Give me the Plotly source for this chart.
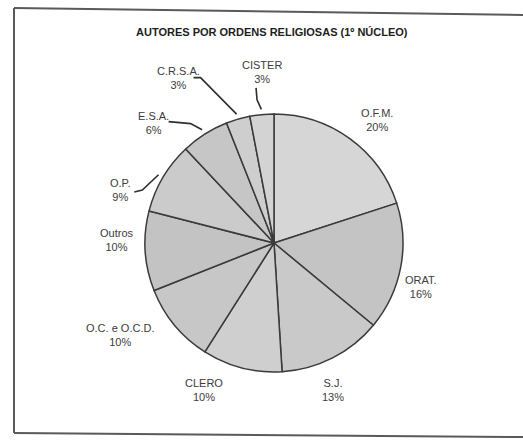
import math
import plotly.graph_objects as go

# ---- data ----
categories = ["O.F.M.", "ORAT.", "S.J.", "CLERO", "O.C. e O.C.D.", "Outros",
              "O.P.", "E.S.A.", "C.R.S.A.", "CISTER"]
percent = [20, 16, 13, 10, 10, 10, 9, 6, 3, 3]
title_text = "AUTORES POR ORDENS RELIGIOSAS (1º NÚCLEO)"

# ---- style ----
W, H = 523, 440
CX, CY, R = 274, 243, 129
slice_colors = ["#d6d6d6", "#c4c4c4", "#c9c9c9", "#cfcfcf", "#c7c7c7",
                "#c3c3c3", "#cbcbcb", "#c6c6c6", "#cecece", "#d3d3d3"]
# label placement: (angle shift in degrees, radius factor)
label_shift = [4, 6, 5, 11, 8.6, 4.6, -11.6, -12.6, -13.8, 1.4]
label_rfac = [1.24, 1.19, 1.23, 1.26, 1.39, 1.22, 1.26, 1.32, 1.48, 1.33]
# leader lines: label index -> (anchor offset from label centre, stub offset)
leaders = {
    9: ((-6, 16), (1, 12)),
    8: ((15, 0), (7, 0)),
    7: ((15, -1), (22, 2)),
    6: ((14, 2), (8, -2)),
}

fig = go.Figure(go.Pie(
    labels=categories,
    values=percent,
    sort=False,
    direction="clockwise",
    rotation=0,
    textinfo="none",
    hoverinfo="label+percent",
    marker=dict(colors=slice_colors, line=dict(color="#3a3a3a", width=1.5)),
    domain=dict(x=[(CX - R) / W, (CX + R) / W],
                y=[(H - CY - R) / H, (H - CY + R) / H]),
    showlegend=False,
))

def px(xp):
    return xp / W

def py(yp):
    return 1 - yp / H

total = sum(percent)
cum = 0
annotations = []
shapes = []
for i, (cat, v) in enumerate(zip(categories, percent)):
    mid = (cum + v / 2) / total * 360
    cum += v
    a = math.radians(mid + label_shift[i])
    lx = CX + R * label_rfac[i] * math.sin(a)
    ly = CY - R * label_rfac[i] * math.cos(a)
    annotations.append(dict(
        x=px(lx), y=py(ly), xref="paper", yref="paper",
        text=f"{cat}<br>{round(v / total * 100)}%", showarrow=False,
        font=dict(family="Liberation Sans, Arial, sans-serif", size=11, color="#3c3c3c"),
        xanchor="center", yanchor="middle", align="center",
    ))
    if i in leaders:
        (ox, oy), (sx, sy) = leaders[i]
        m = math.radians(mid)
        ex = CX + R * 1.04 * math.sin(m)
        ey = CY - R * 1.04 * math.cos(m)
        x0, y0 = lx + ox, ly + oy
        x1, y1 = x0 + sx, y0 + sy
        shapes.append(dict(
            type="path", xref="paper", yref="paper",
            path=f"M {px(x0)} {py(y0)} L {px(x1)} {py(y1)} L {px(ex)} {py(ey)}",
            line=dict(color="#2e2e2e", width=1.6),
        ))

annotations.append(dict(
    x=px(272), y=py(32), xref="paper", yref="paper", text=f"<b>{title_text}</b>",
    showarrow=False, font=dict(family="Liberation Sans, Arial, sans-serif", size=11, color="#1e1e1e"),
    xanchor="center", yanchor="middle",
))

# frame around the chart
frame = [((14, 8), (523, 15)), ((14, 8), (14, 433)), ((14, 433), (523, 437))]
for (a0, b0), (a1, b1) in frame:
    shapes.append(dict(type="line", xref="paper", yref="paper",
                       x0=px(a0), y0=py(b0), x1=px(a1), y1=py(b1),
                       line=dict(color="#5a5a5a", width=2)))

fig.update_layout(
    width=W, height=H,
    margin=dict(l=0, r=0, t=0, b=0),
    paper_bgcolor="white", plot_bgcolor="white",
    annotations=annotations, shapes=shapes,
)

fig.write_html("out.html", config={"displayModeBar": False},
               post_script="document.body.style.margin='0';document.body.style.overflow='hidden';")
